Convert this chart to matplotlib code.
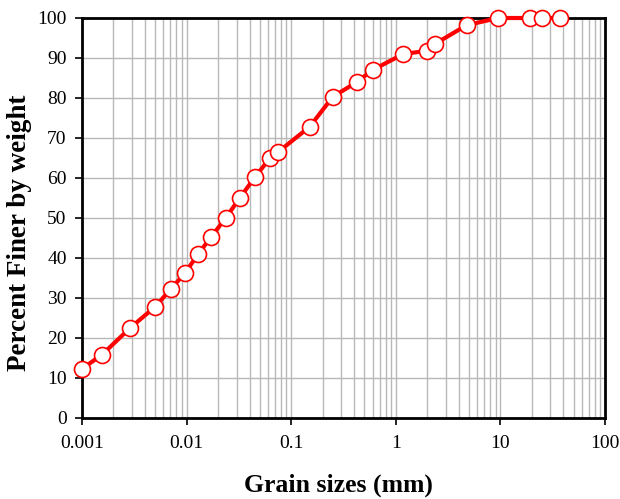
import numpy as np
import matplotlib.pyplot as plt
from matplotlib.ticker import LogLocator, FixedLocator, NullFormatter

# Grain size distribution
size_mm = [0.001, 0.00155, 0.00288, 0.005, 0.0071, 0.0097, 0.0129, 0.0171,
           0.0238, 0.0324, 0.045, 0.0627, 0.075, 0.15, 0.25, 0.425, 0.6,
           1.18, 2.0, 2.36, 4.75, 9.5, 19.0, 25.0, 37.5]
percent_finer = [12.3, 15.8, 22.5, 27.8, 32.3, 36.3, 41.0, 45.2, 50.1, 55.1,
                 60.2, 65.0, 66.5, 72.8, 80.3, 84.0, 87.0, 91.0, 91.8, 93.5,
                 98.2, 100.0, 100.0, 100.0, 100.0]
xtick_labels = ['0.001', '0.01', '0.1', '1', '10', '100']

plt.rcParams['font.family'] = ['Liberation Serif', 'DejaVu Serif']

fig = plt.figure(figsize=(6.2, 4.99), dpi=100)
ax = fig.add_axes([82/620, 1-418/499, (605-82)/620, (418-18)/499])

ax.plot(size_mm, percent_finer, color='#ff0000', lw=3, marker='o', ms=11.5,
        mfc='white', mec='#ff0000', mew=1.2, zorder=3, clip_on=False)

ax.set_xscale('log')
ax.set_xlim(0.001, 100)
ax.set_ylim(0, 100)
ax.xaxis.set_major_locator(FixedLocator([0.001, 0.01, 0.1, 1, 10, 100]))
ax.set_xticklabels(xtick_labels)
ax.xaxis.set_minor_locator(LogLocator(base=10, subs=np.arange(2, 10), numticks=20))
ax.xaxis.set_minor_formatter(NullFormatter())
ax.set_yticks(np.arange(0, 101, 10))

ax.grid(which='major', axis='both', color='#b8b8b8', lw=1)
ax.grid(which='minor', axis='x', color='#b8b8b8', lw=1)
ax.set_axisbelow(True)

ax.tick_params(axis='both', which='major', direction='out', length=5, width=1.2,
               labelsize=14, colors='black')
ax.tick_params(axis='x', which='major', pad=7)
ax.tick_params(axis='y', which='major', pad=6)
ax.tick_params(axis='x', which='minor', length=0)
for sp in ax.spines.values():
    sp.set_linewidth(2)
    sp.set_color('black')

# axis titles placed in figure pixels
fig.text(338/620, 1-485/499, 'Grain sizes (mm)', fontsize=18.5,
         fontweight='bold', ha='center', va='center')
fig.text(20/620, 1-233/499, 'Percent Finer by weight', fontsize=19.5,
         fontweight='bold', ha='center', va='center', rotation=90)

fig.savefig('out.png', dpi=100)
